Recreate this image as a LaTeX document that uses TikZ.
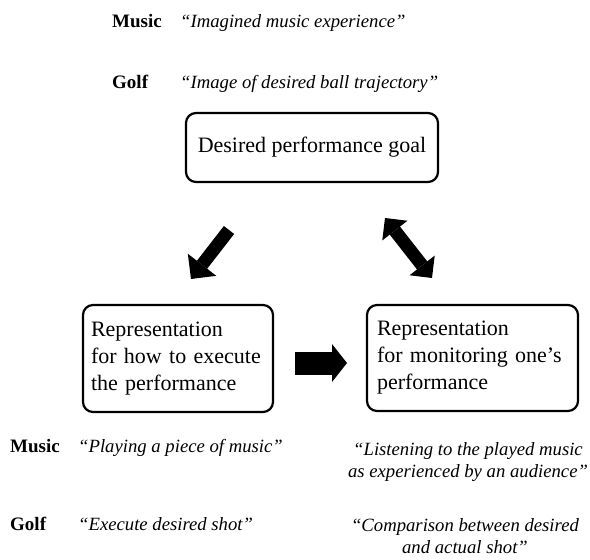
\documentclass[tikz,border=0pt]{standalone}
\usepackage{fontspec}
\setmainfont{Liberation Serif}
\usepackage{tikz}
\usetikzlibrary{positioning, arrows.meta}

\begin{document}
\begin{tikzpicture}[x=1pt, y=-1pt,
  box/.style={draw, line width=2.2pt, rounded corners=10pt, font=\fontsize{22}{27}\selectfont},
  lbl/.style={anchor=base west, inner sep=0pt, font=\fontsize{19}{22}\selectfont\bfseries},
  quote/.style={inner sep=0pt, font=\fontsize{18.7}{22}\selectfont\itshape},
  fatarrow/.style={line width=13pt, -{Triangle[length=18pt, width=36pt, line width=0pt]}},
  fatdouble/.style={line width=13pt, {Triangle[length=16pt, width=32pt, line width=0pt]}-{Triangle[length=16pt, width=32pt, line width=0pt]}}]
\useasboundingbox (0,0) rectangle (590,560);
\node[lbl](music1) at (112,27){Music};
\node[quote, anchor=base west](imagined) at (180,27){``Imagined music experience''};
\node[lbl](golf1) at (112,88){Golf};
\node[quote, anchor=base west](trajectory) at (180,88){``Image of desired ball trajectory''};
\node[box, minimum width=252pt, minimum height=69pt](goal) at (312,147.5){Desired performance goal};
\node[box, align=left, text width=174pt, inner xsep=8pt, minimum height=107pt](execute) at (178,358.5){Representation\\for how to execute\\the performance};
\node[box, align=left, text width=191pt, inner xsep=10pt, minimum height=106pt](monitor) at (472.5,358){Representation\\for monitoring one's\\performance};
\coordinate (dl1) at (229,230);
\coordinate (dl2) at (191,279);
\draw[fatarrow] (dl1) -- (dl2);
\coordinate (dr1) at (385,218);
\coordinate (dr2) at (432,278);
\draw[fatdouble] (dr1) -- (dr2);
\coordinate (rt1) at (295,363);
\coordinate (rt2) at (347,363);
\draw[line width=23pt, -{Triangle[length=15pt, width=38pt, line width=0pt]}] (rt1) -- (rt2);
\node[lbl](music2) at (10,452){Music};
\node[quote, anchor=base west](playing) at (78,452){``Playing a piece of music''};
\node[lbl](golf2) at (10,530){Golf};
\node[quote, anchor=base west](shot) at (78,530){``Execute desired shot''};
\node[quote, align=center, anchor=base](listening) at (468,477){``Listening to the played music\\as experienced by an audience''};
\node[quote, align=center, anchor=base](comparison) at (465,553){``Comparison between desired\\and actual shot''};
\end{tikzpicture}
\end{document}
